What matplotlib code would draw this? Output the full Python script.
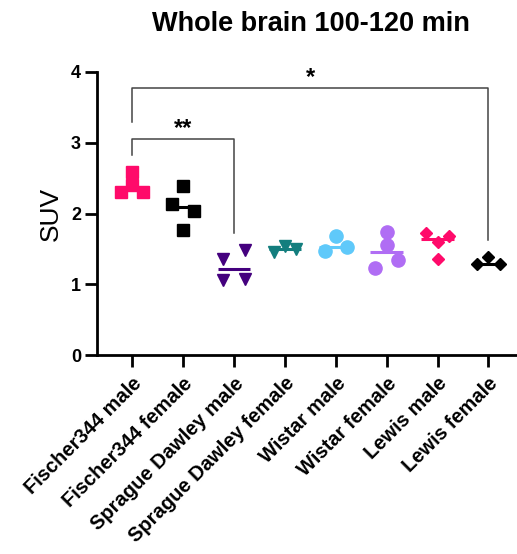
import matplotlib
matplotlib.use("Agg")
import matplotlib.pyplot as plt
import numpy as np

plt.rcParams['font.family'] = ['Liberation Sans', 'DejaVu Sans']

title = "Whole brain 100-120 min"
ylabel = "SUV"
categories = ["Fischer344 male", "Fischer344 female", "Sprague Dawley male",
              "Sprague Dawley female", "Wistar male", "Wistar female",
              "Lewis male", "Lewis female"]

fischer_male = [2.58, 2.40, 2.30, 2.31]
fischer_female = [2.39, 2.14, 2.04, 1.77]
sd_male = [1.36, 1.49, 1.06, 1.07]
sd_female = [1.46, 1.54, 1.50]
wistar_male = [1.68, 1.47, 1.52]
wistar_female = [1.74, 1.56, 1.34, 1.23]
lewis_male = [1.73, 1.68, 1.60, 1.36]
lewis_female = [1.39, 1.28, 1.29]

values = [fischer_male, fischer_female, sd_male, sd_female,
          wistar_male, wistar_female, lewis_male, lewis_female]

# horizontal swarm offsets (layout only)
offsets = [[0, 0, -0.22, 0.22],
           [0, -0.22, 0.22, 0],
           [-0.22, 0.22, -0.22, 0.22],
           [-0.22, 0, 0.22],
           [0, -0.22, 0.22],
           [0, 0, 0.22, -0.22],
           [-0.22, 0.22, 0, 0],
           [0, -0.23, 0.22]]

colors = ['#FF0A6A', '#000000', '#44007E', '#137E7E',
          '#5FC9FA', '#B06DF4', '#FF0A6A', '#000000']
markers = ['s', 's', 'v', 'v', 'o', 'o', 'D', 'D']
msizes = [8.6, 8.6, 9.0, 9.0, 9.5, 9.5, 6.2, 6.2]

yticks = [0, 1, 2, 3, 4]

# significance brackets: (group a, group b, y top, y left end, y right end, label, label y)
sig_pairs = [(0, 2, 3.05, 2.82, 1.72, "**", 3.20),
             (0, 7, 3.78, 3.30, 1.63, "*", 3.92)]

fig = plt.figure(figsize=(5.17, 5.54), dpi=100)
ax = fig.add_axes([97/517, 1 - 355/554, (517 - 97)/517, (355 - 72)/554])

x = np.arange(len(categories))
for i, (vals, offs) in enumerate(zip(values, offsets)):
    med = np.median(vals)
    ax.plot([x[i] - 0.32, x[i] + 0.32], [med, med], color=colors[i], lw=2.2,
            solid_capstyle='butt', zorder=2)
    ax.plot(x[i] + np.array(offs), vals, linestyle='none', marker=markers[i],
            ms=msizes[i], color=colors[i], mec=colors[i], zorder=3,
            clip_on=False)

for a, b, ytop, yl, yr, lab, ly in sig_pairs:
    ax.plot([x[a], x[a], x[b], x[b]], [yl, ytop, ytop, yr], color='#444444',
            lw=1.1, zorder=1, clip_on=False)
    ax.text((x[a] + x[b]) / 2, ly, lab, ha='center', va='center',
            fontsize=17, fontweight='bold', color='black')

ax.set_xlim(-0.69, 7.56)
ax.set_ylim(0, 4)
ax.set_yticks(yticks)
ax.set_yticklabels([str(t) for t in yticks], fontsize=13, fontweight='bold')
ax.set_xticks(x)
ax.set_xticklabels(categories, rotation=45, ha='right', rotation_mode='anchor',
                   fontsize=14.5, fontweight='bold')
ax.tick_params(axis='both', length=8.5, width=2, direction='out', color='black')
ax.tick_params(axis='x', pad=5)
ax.tick_params(axis='y', pad=3)
for s in ['top', 'right']:
    ax.spines[s].set_visible(False)
for s in ['left', 'bottom']:
    ax.spines[s].set_linewidth(2)
ax.set_ylabel(ylabel, fontsize=19, labelpad=6)
fig.text(311/517, 1 - 24/554, title, ha='center', va='center', fontsize=19.5,
         fontweight='bold')

fig.savefig("out.png", dpi=100)
